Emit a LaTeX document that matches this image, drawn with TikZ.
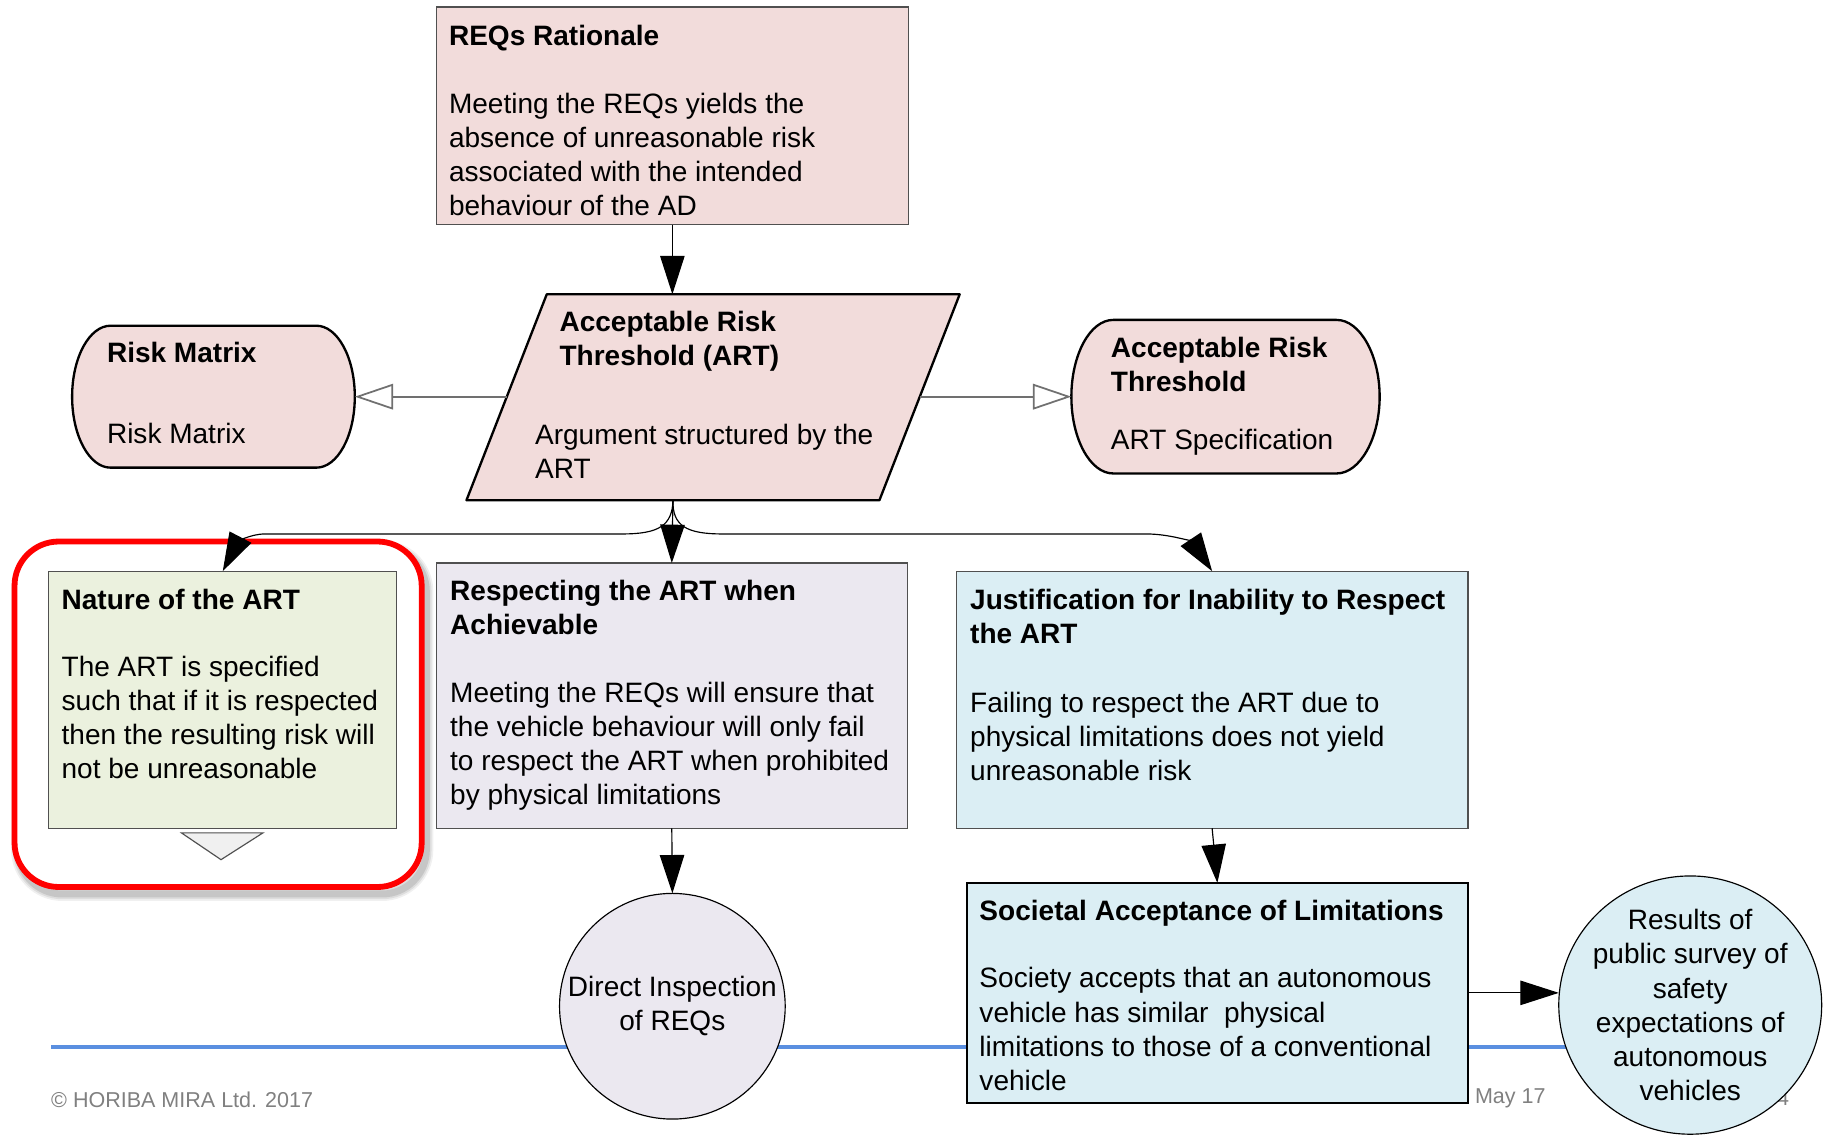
\documentclass[tikz,border=0pt]{standalone}
\usepackage{fontspec}
\setmainfont{Liberation Sans}
\usetikzlibrary{arrows.meta,shapes.geometric}
\definecolor{pinkf}{HTML}{F2DCDB}
\definecolor{greenf}{HTML}{EBF1DE}
\definecolor{lavf}{HTML}{EBE8F0}
\definecolor{bluef}{HTML}{DBEEF4}
\definecolor{boxline}{HTML}{505050}
\definecolor{hline}{HTML}{5A8FE0}
\definecolor{foot}{HTML}{808080}
\definecolor{hconncol}{HTML}{707070}
\newcommand\lefttab[1]{\begin{tabular}[t]{@{}l@{}}#1\end{tabular}}
\begin{document}
\begin{tikzpicture}[x=1pt,y=-1pt,
  every node/.style={font=\fontsize{24.1pt}{29.3pt}\selectfont, inner sep=0pt, outer sep=0pt},
  box/.style={draw=boxline, line width=1pt, rectangle, anchor=north west},
  txt/.style={anchor=base west},
  shapeline/.style={draw=black, line width=2pt, fill=pinkf, line join=round},
  conn/.style={draw=black, line width=1pt},
  hconn/.style={draw=hconncol, line width=1.5pt},
  blk/.style={-{Triangle[length=33pt,width=21pt]}},
  hol/.style={-{Triangle[open,length=33pt,width=22pt,fill=white]}},
  circ/.style={draw=black, line width=1pt, ellipse},
  ctxt/.style={align=center},
  foottxt/.style={anchor=base west, text=foot, font=\fontsize{18.5pt}{22pt}\selectfont}
]
\useasboundingbox (0,0) rectangle (1568,975);

% footer line and texts
\coordinate (hlA) at (44,900);
\coordinate (hlB) at (1400,900);
\draw[hline, line width=2.8pt] (hlA) -- (hlB);
\node[foottxt] (copy) at (44,952) {© HORIBA MIRA Ltd. 2017};
\node[foottxt] (date) at (1268,949) {May 17};
\node[foottxt, anchor=base east] (page) at (1538,950) {4};

% red highlight with soft shadow
\foreach \w/\o in {12/0.06,9/0.08,6/0.10}{
  \draw[black, opacity=\o, line width=\w pt, rounded corners=38pt] (15.5,470.5) rectangle (366.5,768.5);
}
\draw[red, line width=5pt, fill=white, rounded corners=38pt] (12.5,465.5) rectangle (362.5,762.5);

% REQs Rationale
\node[box, fill=pinkf, minimum width=406pt, minimum height=187pt] (req) at (375,6) {};
\node[txt] (reqt) at (386,39) {\lefttab{\textbf{REQs Rationale}\\[29pt]Meeting the REQs yields the\\absence of unreasonable risk\\associated with the intended\\behaviour of the AD}};

% ART parallelogram
\coordinate (artTL) at (470,253);
\coordinate (artTR) at (825,253);
\coordinate (artBR) at (756,430);
\coordinate (artBL) at (401,430);
\draw[shapeline] (artBL) -- (artTL) -- (artTR) -- (artBR) -- cycle;
\coordinate (artT) at (578,253);
\coordinate (artB) at (578.5,430);
\coordinate (artL) at (435.7,341);
\coordinate (artR) at (790.7,341);
\node[txt] (artt) at (481,285) {\lefttab{\textbf{Acceptable Risk}\\\textbf{Threshold (ART)}}};
\node[txt] (artb) at (460,382) {\lefttab{Argument structured by the\\ART}};

% Risk Matrix
\draw[shapeline] (95,280) -- (272,280) .. controls (290,280) and (305,307) .. (305,341)
  .. controls (305,375) and (290,402) .. (272,402) -- (95,402)
  .. controls (77,402) and (62,375) .. (62,341) .. controls (62,307) and (77,280) .. (95,280) -- cycle;
\coordinate (rmR) at (305,341);
\node[txt] (rmt) at (92,312) {\textbf{Risk Matrix}};
\node[txt] (rmb) at (92,381) {Risk Matrix};

% ART specification
\draw[shapeline] (957,275) -- (1149,275) .. controls (1169,275) and (1186,305) .. (1186,341)
  .. controls (1186,377) and (1169,407) .. (1149,407) -- (957,407)
  .. controls (937,407) and (921,377) .. (921,341) .. controls (921,305) and (937,275) .. (957,275) -- cycle;
\coordinate (asL) at (921,341);
\node[txt] (ast) at (955,307) {\lefttab{\textbf{Acceptable Risk}\\\textbf{Threshold}}};
\node[txt] (asb) at (955,386) {ART Specification};

% Nature of the ART
\node[box, fill=greenf, minimum width=299pt, minimum height=221pt] (nat) at (42,491) {};
\node[txt] (natt) at (53,524) {\lefttab{\textbf{Nature of the ART}\\[28pt]The ART is specified\\such that if it is respected\\then the resulting risk will\\not be unreasonable}};
\draw[draw=boxline, line width=1pt, fill=black!6, line join=miter] (156,716) -- (226,716) -- (190,739) -- cycle;

% Respecting
\node[box, fill=lavf, minimum width=405pt, minimum height=228pt] (resp) at (375,484) {};
\node[txt] (respt) at (387,516) {\lefttab{\textbf{Respecting the ART when}\\\textbf{Achievable}\\[29pt]Meeting the REQs will ensure that\\the vehicle behaviour will only fail\\to respect the ART when prohibited\\by physical limitations}};

% Justification
\node[box, fill=bluef, minimum width=440pt, minimum height=221pt] (jus) at (822,491) {};
\node[txt] (just) at (834,524) {\lefttab{\textbf{Justification for Inability to Respect}\\\textbf{the ART}\\[30pt]Failing to respect the ART due to\\physical limitations does not yield\\unreasonable risk}};

% Societal
\node[box, draw=black, line width=1.5pt, fill=bluef, minimum width=431pt, minimum height=189pt] (soc) at (831,759) {};
\node[txt] (soct) at (842,791) {\lefttab{\textbf{Societal Acceptance of Limitations}\\[29pt]Society accepts that an autonomous\\vehicle has similar\ \ physical\\limitations to those of a conventional\\vehicle}};

% circles
\node[circ, fill=lavf, minimum width=194pt, minimum height=194pt] (dir) at (578,865) {};
\node[ctxt] (dirt) at (dir.center) {Direct Inspection\\of REQs};
\node[circ, fill=bluef, minimum width=226pt, minimum height=222pt] (res) at (1453,864) {};
\node[ctxt] (rest) at (res.center) {Results of\\public survey of\\safety\\expectations of\\autonomous\\vehicles};

% connectors
\draw[conn, blk] (req.south) -- (artT);
\draw[hconn, hol] (artL) -- (rmR);
\draw[hconn, hol] (artR) -- (asL);
\draw[conn, blk] (artB) -- (resp.north);
\draw[conn, blk] (artB) .. controls (578,452) and (566,459) .. (535,459) -- (228,459)
  .. controls (214,459) and (204,467) .. (nat.north);
\draw[conn, blk] (artB) .. controls (578,452) and (590,459) .. (621,459) -- (985,459)
  .. controls (1008,459) and (1026,467) .. (jus.north);
\draw[conn, blk] (resp.south) -- (dir.north);
\draw[conn, blk] (jus.south) -- (soc.north);
\draw[conn, blk] (soc.east) -- (soc.east -| res.west);
\end{tikzpicture}
\end{document}
